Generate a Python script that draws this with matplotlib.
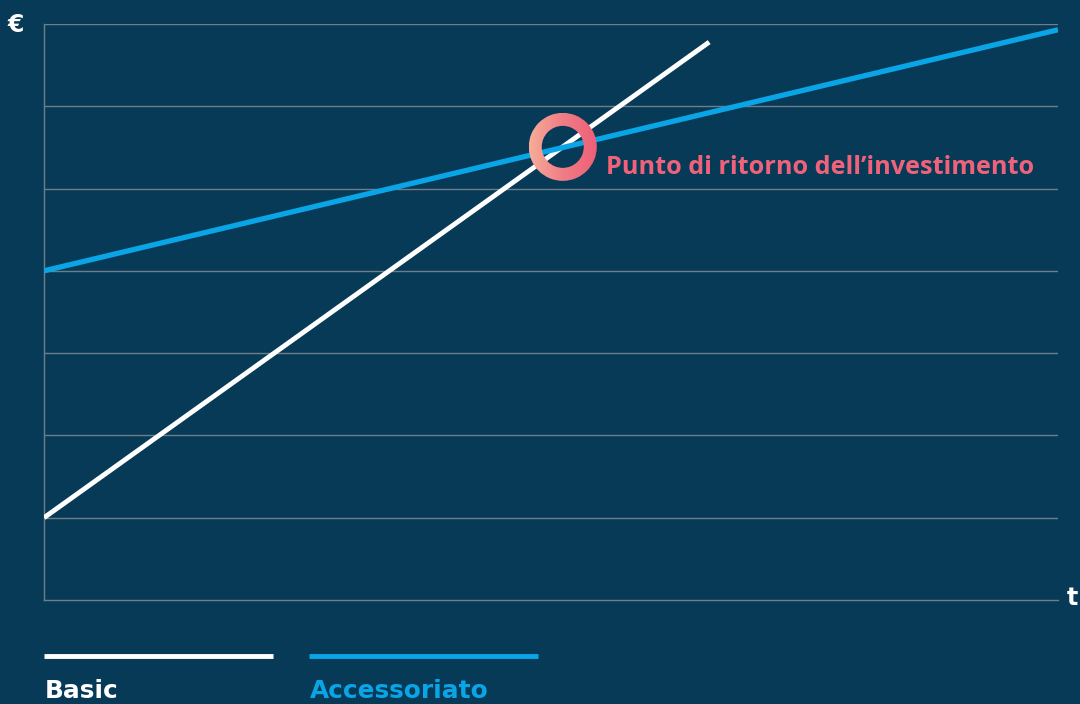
import numpy as np
import matplotlib
matplotlib.use("Agg")
import matplotlib.pyplot as plt
from matplotlib.patches import Wedge
from matplotlib.lines import Line2D
from matplotlib.colors import LinearSegmentedColormap

# ---- data ----
series_names = ["Basic", "Accessoriato"]
basic_x = [0, 65.6]
basic_y = [1.0, 6.78]
acc_x = [0, 100]
acc_y = [4.0, 6.93]
y_ticks = [0, 1, 2, 3, 4, 5, 6, 7]
annotation_label = "Punto di ritorno dell\u2019investimento"

BG = "#073a57"
GRID = "#6e7d8a"
WHITE = "#ffffff"
BLUE = "#0aa5e6"
PINK = "#f0627a"

W, H = 1080, 704
fig = plt.figure(figsize=(W / 100, H / 100), dpi=100, facecolor=BG)
ax = fig.add_axes([44 / W, (H - 600) / H, 1014 / W, 576 / H])
ax.set_facecolor(BG)
ax.set_xlim(0, 100)
ax.set_ylim(0, 7)
for y in y_ticks[1:]:
    ax.axhline(y, color=GRID, lw=1, zorder=1)
for s in ["top", "right"]:
    ax.spines[s].set_visible(False)
for s in ["left", "bottom"]:
    ax.spines[s].set_color(GRID)
    ax.spines[s].set_linewidth(1)
ax.set_xticks([])
ax.set_yticks([])

ax.plot(basic_x, basic_y, color=WHITE, lw=3.5, solid_capstyle="butt", zorder=3)
ax.plot(acc_x, acc_y, color=BLUE, lw=3.8, solid_capstyle="butt", zorder=3)

# intersection
m1 = (basic_y[1] - basic_y[0]) / (basic_x[1] - basic_x[0])
m2 = (acc_y[1] - acc_y[0]) / (acc_x[1] - acc_x[0])
xi = (acc_y[0] - basic_y[0]) / (m1 - m2)
yi = basic_y[0] + m1 * xi

fig.canvas.draw()
px, py = ax.transData.transform((xi, yi))
px += 1.5
py += 1.0
R_out, R_in = 34, 21
rax = fig.add_axes([(px - R_out) / W, (py - R_out) / H, 2 * R_out / W, 2 * R_out / H])
rax.set_xlim(-R_out, R_out)
rax.set_ylim(-R_out, R_out)
rax.axis("off")
rax.patch.set_alpha(0)
grad = np.linspace(0, 1, 256).reshape(1, -1)
cmap = LinearSegmentedColormap.from_list("g", ["#f6ad98", "#f07d86", "#ee5f78"])
im = rax.imshow(grad, extent=[-R_out, R_out, -R_out, R_out], cmap=cmap, aspect="auto")
ring = Wedge((0, 0), R_out, 0, 360, width=R_out - R_in, transform=rax.transData)
rax.add_patch(ring)
ring.set_visible(False)
im.set_clip_path(ring)

fig.text(606 / W, 1 - 174 / H, annotation_label, color=PINK, fontsize=18.2,
         fontfamily="Open Sans", fontweight="bold", va="baseline", ha="left")

fig.text(8 / W, 1 - 32 / H, "\u20ac", color=WHITE, fontsize=17, fontfamily="DejaVu Sans",
         fontweight="bold", va="baseline", ha="left")
fig.text(1067 / W, 1 - 605 / H, "t", color=WHITE, fontsize=17, fontfamily="DejaVu Sans",
         fontweight="bold", va="baseline", ha="left")

# legend
for (x0, x1), name, col in [((44, 273), series_names[0], WHITE), ((309, 538), series_names[1], BLUE)]:
    fig.add_artist(Line2D([x0 / W, x1 / W], [1 - 656 / H, 1 - 656 / H], color=col, lw=3.5,
                          solid_capstyle="butt", transform=fig.transFigure))
    fig.text((x0 + 1) / W, 1 - 698 / H, name, color=col, fontsize=17.8, fontfamily="DejaVu Sans",
             fontweight="bold", va="baseline", ha="left")

fig.savefig("out.png", dpi=100, facecolor=BG)
